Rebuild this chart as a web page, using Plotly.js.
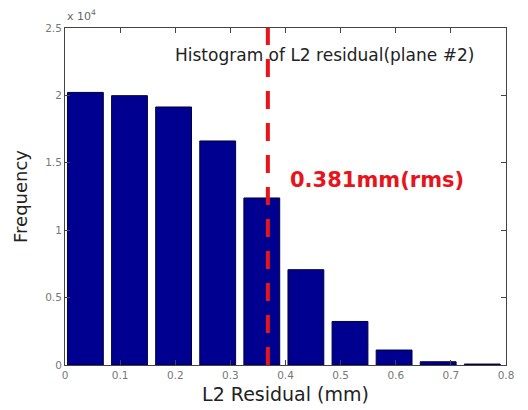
<!DOCTYPE html>
<html><head><meta charset="utf-8">
<script src="https://cdn.plot.ly/plotly-3.0.1.min.js"></script>
<style>html,body{margin:0;padding:0;background:#fff}#c{width:528px;height:410px}</style>
</head><body><div id="c"></div>
<script>
const binCenters = [0.037, 0.117, 0.197, 0.277, 0.357, 0.437, 0.517, 0.597, 0.677, 0.757];
const frequency = [20220, 19980, 19140, 16620, 12390, 7070, 3230, 1110, 240, 70];
const xTickVals = [0, 0.1, 0.2, 0.3, 0.4, 0.5, 0.6, 0.7, 0.8];
const xTickText = ['0', '0.1', '0.2', '0.3', '0.4', '0.5', '0.6', '0.7', '0.8'];
const yTickVals = [0, 5000, 10000, 15000, 20000, 25000];
const yTickText = ['0', '0.5', '1', '1.5', '2', '2.5'];
const rmsLine = 0.368;
const rmsLabel = '0.381mm(rms)';

const bars = {
  type: 'bar', x: binCenters, y: frequency, width: 0.065,
  marker: {color: '#000090', line: {color: '#00003a', width: 1}},
  hoverinfo: 'none'
};
const F = 'DejaVu Sans, sans-serif';
const layout = {
  width: 528, height: 410,
  margin: {l: 65, r: 22, t: 28, b: 45},
  paper_bgcolor: '#fff', plot_bgcolor: '#fff',
  showlegend: false,
  font: {family: F, color: '#222'},
  xaxis: {
    range: [0, 0.8], tickvals: xTickVals, ticktext: xTickText,
    ticks: 'inside', ticklen: 5, tickcolor: '#444',
    showline: true, linecolor: '#444', linewidth: 1, mirror: 'ticks',
    showgrid: false, zeroline: false,
    tickfont: {family: F, size: 10.5, color: '#777'},
    title: {text: 'L2 Residual (mm)', font: {family: F, size: 19, color: '#222'}, standoff: 8}
  },
  yaxis: {
    range: [0, 25000], tickvals: yTickVals, ticktext: yTickText,
    ticks: 'inside', ticklen: 5, tickcolor: '#444',
    showline: true, linecolor: '#444', linewidth: 1, mirror: 'ticks',
    showgrid: false, zeroline: false,
    tickfont: {family: F, size: 10.5, color: '#777'},
    title: {text: 'Frequency', font: {family: F, size: 18, color: '#222'}, standoff: 12}
  },
  shapes: [{
    type: 'line', xref: 'x', yref: 'paper', x0: rmsLine, x1: rmsLine, y0: 0, y1: 1,
    line: {color: '#e8141c', width: 4, dash: '18px,14px'}
  }],
  annotations: [
    {xref: 'paper', yref: 'paper', x: 0, y: 1, xanchor: 'left', yanchor: 'bottom', yshift: 3,
     text: 'x 10<sup>4</sup>', showarrow: false, font: {family: F, size: 11, color: '#666'}},
    {xref: 'x', yref: 'paper', x: 0.2, y: 0.92, xanchor: 'left', yanchor: 'middle', xshift: -2,
     text: 'Histogram of L2 residual(plane #2)', showarrow: false, font: {family: F, size: 17, color: '#222'}},
    {xref: 'x', yref: 'y', x: 0.405, y: 13700, xanchor: 'left', yanchor: 'middle',
     text: '<b>' + rmsLabel + '</b>', showarrow: false, font: {family: F, size: 21, color: '#e8141c'}}
  ]
};
Plotly.newPlot('c', [bars], layout, {displayModeBar: false, staticPlot: true});
</script></body></html>
